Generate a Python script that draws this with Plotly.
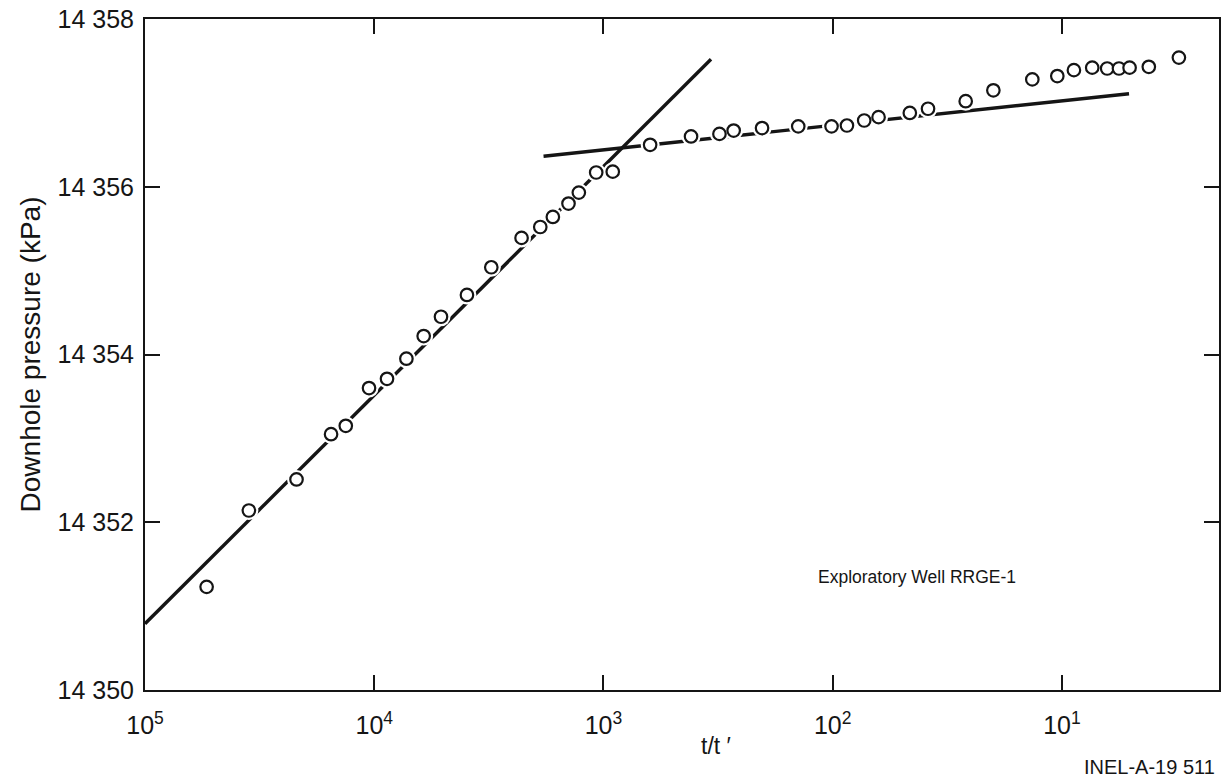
import plotly.graph_objects as go

# ---- data ----
t_ratio = [53850, 35230, 21830, 15430, 13310, 10540, 8796, 7240, 6086, 5115,
           3941, 3086, 2277, 1887, 1663, 1421, 1281, 1076, 911,
           626, 415, 312, 270.5, 203.4, 141.4, 101.2, 86.7, 72.9, 63.1,
           46.1, 38.4, 26.3, 19.92, 13.47, 10.48, 8.87, 7.38, 6.35, 5.64,
           5.07, 4.18, 3.09]
pressure = [14351.23, 14352.14, 14352.51, 14353.05, 14353.15, 14353.60, 14353.71,
            14353.95, 14354.22, 14354.45, 14354.71, 14355.04, 14355.39, 14355.52,
            14355.64, 14355.80, 14355.93, 14356.17, 14356.18,
            14356.50, 14356.60, 14356.63, 14356.67, 14356.70, 14356.72, 14356.72,
            14356.73, 14356.79, 14356.83, 14356.88, 14356.93, 14357.02, 14357.15,
            14357.28, 14357.32, 14357.39, 14357.42, 14357.41, 14357.41, 14357.42,
            14357.43, 14357.54]

steep_t = [100000, 339.6]
steep_p = [14350.79, 14357.52]
flat_t = [1826, 5.1]
flat_p = [14356.364, 14357.109]

x_tickvals = [1e5, 1e4, 1e3, 1e2, 1e1]
x_ticktext = ["10<sup>5</sup>", "10<sup>4</sup>", "10<sup>3</sup>",
              "10<sup>2</sup>", "10<sup>1</sup>"]
y_tickvals = [14350, 14352, 14354, 14356, 14358]
y_ticktext = ["14 350", "14 352", "14 354", "14 356", "14 358"]

FONT = "Liberation Sans, Arial, sans-serif"
INK = "#151515"

fig = go.Figure()
for tx, py in ((steep_t, steep_p), (flat_t, flat_p)):
    fig.add_trace(go.Scatter(x=tx, y=py, mode="lines",
                             line=dict(color=INK, width=3.4),
                             showlegend=False, hoverinfo="skip"))
# white halo to break the lines around the circles
fig.add_trace(go.Scatter(x=t_ratio, y=pressure, mode="markers",
                         marker=dict(size=19, color="white", line=dict(width=0)),
                         showlegend=False, hoverinfo="skip"))
fig.add_trace(go.Scatter(x=t_ratio, y=pressure, mode="markers",
                         marker=dict(size=12.5, color="white", symbol="circle",
                                     line=dict(color=INK, width=2.2)),
                         showlegend=False))

fig.update_xaxes(type="log", range=[5, 0.315],
                 tickvals=x_tickvals, ticktext=x_ticktext,
                 ticks="inside", ticklen=15, tickwidth=2, tickcolor=INK,
                 showline=True, linewidth=2, linecolor=INK, mirror="ticks",
                 showgrid=False, zeroline=False,
                 tickfont=dict(family=FONT, size=25, color=INK),
                 ticklabelstandoff=12)
fig.update_yaxes(range=[14350, 14358],
                 tickvals=y_tickvals, ticktext=y_ticktext,
                 ticks="inside", ticklen=15, tickwidth=2, tickcolor=INK,
                 showline=True, linewidth=2, linecolor=INK, mirror="ticks",
                 showgrid=False, zeroline=False,
                 tickfont=dict(family=FONT, size=25, color=INK),
                 ticklabelstandoff=4,
                 title=dict(text="Downhole pressure (kPa)",
                            font=dict(family=FONT, size=28, color=INK),
                            standoff=9))

fig.add_annotation(text="t/t ′", xref="paper", yref="paper",
                   x=0.532, y=-0.083, xanchor="center", yanchor="middle", showarrow=False,
                   font=dict(family=FONT, size=23, color=INK))
fig.add_annotation(text="Exploratory Well RRGE-1", xref="paper", yref="paper",
                   x=0.625, y=0.168, xanchor="left", yanchor="middle", showarrow=False,
                   font=dict(family=FONT, size=17.5, color=INK))
fig.add_annotation(text="INEL-A-19 511", xref="paper", yref="paper",
                   x=0.998, y=-0.115, xanchor="right", yanchor="middle", showarrow=False,
                   font=dict(family=FONT, size=20, color=INK))

fig.update_layout(width=1225, height=777,
                  margin=dict(l=145, r=4, t=19, b=87),
                  paper_bgcolor="white", plot_bgcolor="white",
                  showlegend=False)

fig.write_html("out.html")
